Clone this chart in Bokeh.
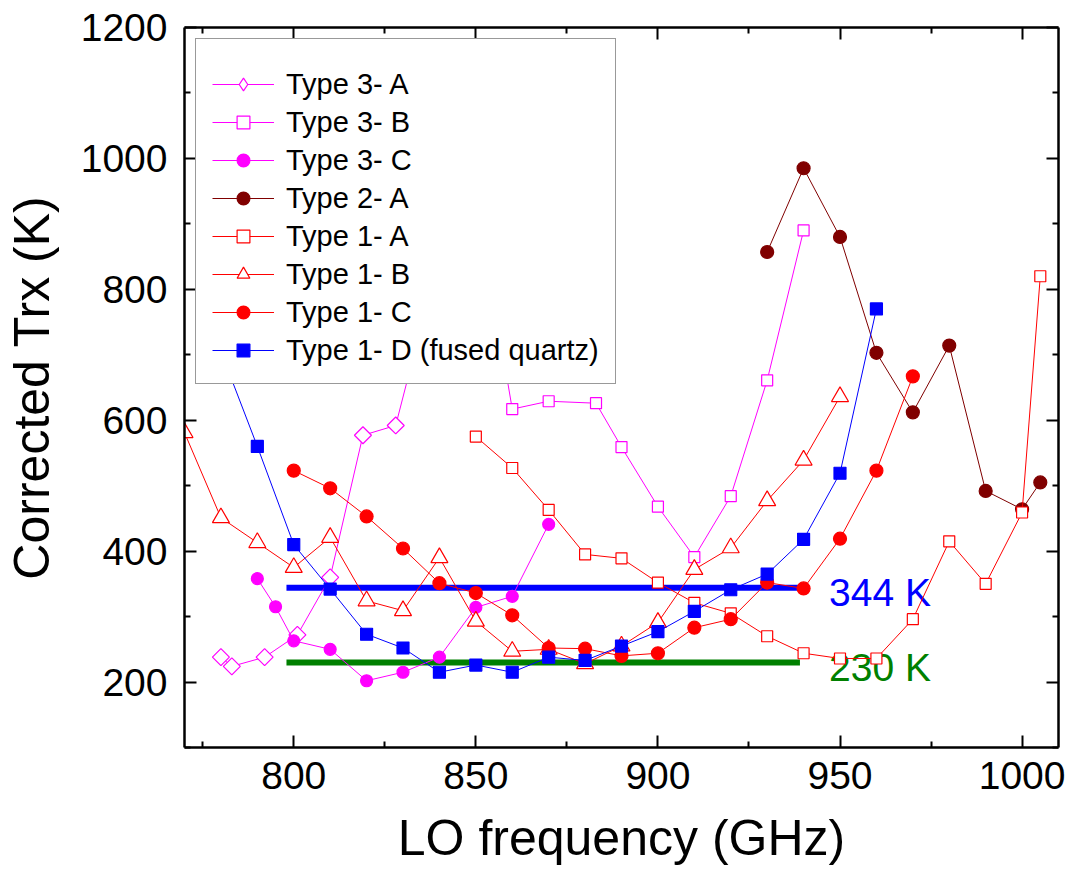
import numpy as np
from bokeh.plotting import figure
from bokeh.models import Range1d, FixedTicker, LinearAxis, Legend, LegendItem
from bokeh.embed import file_html
from bokeh.resources import INLINE
from bokeh.core.properties import value

FONT = "Liberation Sans"

# ---- data (LO frequency in GHz, corrected Trx in K) ----
t3a_f = [780, 783, 792, 801, 810, 819, 828, 837]
t3a_t = [238, 224, 238, 272, 360, 577, 592, 787]

t3b_f = [850, 860, 870, 883, 890, 900, 910, 920, 930, 940]
t3b_t = [945, 617, 629, 626, 559, 468, 391, 484, 661, 890]

t3c_f = [790, 795, 800, 810, 820, 830, 840, 850, 860, 870]
t3c_t = [358, 315, 263, 250, 202, 215, 238, 314, 331, 441]

t2a_f = [930, 940, 950, 960, 970, 980, 990, 1000, 1005]
t2a_t = [857, 985, 880, 703, 612, 714, 492, 464, 505]

t1a_f = [850, 860, 870, 880, 890, 900, 910, 920, 930, 940, 950, 960, 970, 980, 990, 1000, 1005]
t1a_t = [575, 527, 463, 395, 389, 352, 321, 305, 270, 244, 236, 236, 296, 415, 350, 459, 820]

t1b_f = [770, 780, 790, 800, 810, 820, 830, 840, 850, 860, 870, 880, 890, 900, 910, 920, 930, 940, 950]
t1b_t = [581, 451, 413, 375, 421, 324, 309, 390, 293, 247, 250, 228, 255, 291, 372, 405, 477, 539, 636]

t1c_f = [800, 810, 820, 830, 840, 850, 860, 870, 880, 890, 900, 910, 920, 930, 940, 950, 960, 970]
t1c_t = [523, 496, 453, 404, 351, 336, 302, 252, 251, 240, 244, 283, 296, 352, 343, 419, 523, 667]

t1d_f = [780, 790, 800, 810, 820, 830, 840, 850, 860, 870, 880, 890, 900, 910, 920, 930, 940, 950, 960]
t1d_t = [705, 560, 410, 342, 273, 252, 215, 226, 215, 238, 233, 255, 277, 308, 341, 365, 418, 519, 770]

ref_levels = [344, 230]
ref_labels = ["344 K", "230 K"]
ref_colors = ["#0000FF", "#008000"]
ref_span = [798, 939]
ref_label_x = 947

x_ticks = [800, 850, 900, 950, 1000]
x_minor = [775, 825, 875, 925, 975]
y_ticks = [200, 400, 600, 800, 1000, 1200]
y_minor = [100, 300, 500, 700, 900, 1100]

series = [
    ("Type 3- A", t3a_f, t3a_t, "#FF00FF", "square", 12, np.pi / 4, False),
    ("Type 3- B", t3b_f, t3b_t, "#FF00FF", "square", 11, 0, False),
    ("Type 3- C", t3c_f, t3c_t, "#FF00FF", "circle", 12, 0, True),
    ("Type 2- A", t2a_f, t2a_t, "#800000", "circle", 13, 0, True),
    ("Type 1- A", t1a_f, t1a_t, "#FF0000", "square", 11, 0, False),
    ("Type 1- B", t1b_f, t1b_t, "#FF0000", "triangle", 17, 0, False),
    ("Type 1- C", t1c_f, t1c_t, "#FF0000", "circle", 13, 0, True),
    ("Type 1- D (fused quartz)", t1d_f, t1d_t, "#0000FF", "square", 12, 0, True),
]

p = figure(width=1066, height=870,
           x_range=Range1d(770, 1010), y_range=Range1d(100, 1200),
           output_backend="svg", toolbar_location=None,
           min_border_left=184, min_border_top=27, min_border_right=8, min_border_bottom=123)
p.xgrid.visible = False
p.ygrid.visible = False
p.outline_line_color = None
p.background_fill_color = "white"
p.border_fill_color = "white"

# reference levels (drawn beneath the data)
for lvl, lab, col in zip(ref_levels, ref_labels, ref_colors):
    p.line(ref_span, [lvl, lvl], line_width=6, line_color=col)
    p.text(x=[ref_label_x], y=[lvl], text=[lab], text_color=col,
           text_font=value(FONT), text_font_size="39px",
           text_baseline="middle", text_align="left", y_offset=5)

items = []
for name, fx, ty, col, mk, sz, ang, filled in series:
    ln = p.line(fx, ty, line_color=col, line_width=1)
    sc = p.scatter(fx, ty, marker=mk, size=sz, angle=ang,
                   line_color=col, line_width=1.2,
                   fill_color=col if filled else "white")
    legend_marks = [ln, sc]
    if ang != 0:
        # the legend does not rotate markers: show a diamond there instead
        dummy = p.scatter([np.nan], [np.nan], marker="diamond", size=sz,
                          line_color=col, line_width=1.2,
                          fill_color=col if filled else "white")
        legend_marks = [ln, dummy]
    items.append(LegendItem(label=name, renderers=legend_marks))

legend = Legend(items=items, location="top_left", margin=11,
                padding=16, spacing=4, glyph_width=62, glyph_height=32,
                label_height=34, label_standoff=12,
                label_text_font=FONT, label_text_font_size="29px",
                label_text_color="black",
                title=" ", title_text_font_size="8px", title_standoff=3,
                border_line_color="#333333", border_line_width=1.5,
                background_fill_color="white", background_fill_alpha=1.0)
p.add_layout(legend)

def style_axis(ax, ticks, minor, show_labels):
    ax.ticker = FixedTicker(ticks=ticks, minor_ticks=minor)
    ax.axis_line_width = 2.5
    ax.axis_line_color = "black"
    ax.major_tick_in = 12
    ax.major_tick_out = 0
    ax.minor_tick_in = 6
    ax.minor_tick_out = 0
    ax.major_tick_line_width = 2
    ax.minor_tick_line_width = 2
    ax.major_tick_line_color = "black"
    ax.minor_tick_line_color = "black"
    if show_labels:
        ax.major_label_text_font = FONT
        ax.major_label_text_font_size = "39px"
        ax.major_label_text_color = "black"
    else:
        ax.major_label_overrides = {t: "" for t in ticks}
        ax.major_label_standoff = 0

xa = p.xaxis[0]
ya = p.yaxis[0]
style_axis(xa, x_ticks, x_minor, True)
style_axis(ya, y_ticks, y_minor, True)
xa.major_label_standoff = 14
ya.major_label_standoff = 17
xa.axis_label = "LO frequency (GHz)"
ya.axis_label = "Corrected Trx (K)"
for ax in (xa, ya):
    ax.axis_label_text_font = FONT
    ax.axis_label_text_font_size = "50px"
    ax.axis_label_text_font_style = "normal"
    ax.axis_label_text_color = "black"
xa.axis_label_standoff = 18
ya.axis_label_standoff = 18

top = LinearAxis()
style_axis(top, x_ticks, x_minor, False)
p.add_layout(top, "above")
right = LinearAxis()
style_axis(right, y_ticks, y_minor, False)
p.add_layout(right, "right")

open("out.html", "w").write(file_html(p, INLINE))
